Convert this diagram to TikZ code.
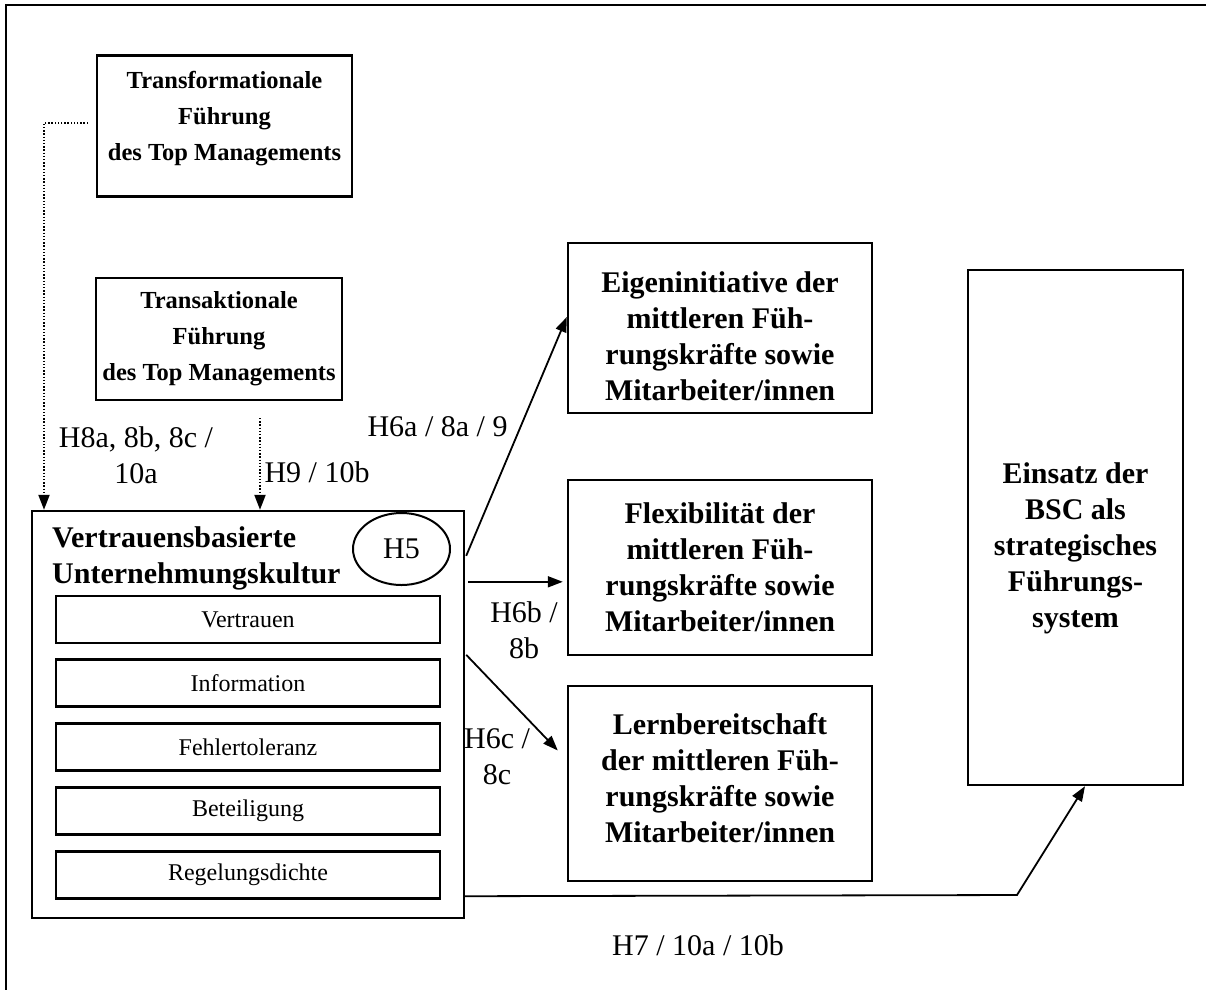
\documentclass[tikz,border=0pt]{standalone}
\usepackage{fontspec}
\setmainfont{Liberation Serif}
\usetikzlibrary{arrows.meta,calc,shapes.geometric}
\newcommand\boxtitlefont{\fontsize{30}{36}\selectfont\bfseries}
\newcommand\leadfont{\fontsize{24.5}{36}\selectfont\bfseries}
\newcommand\labelfont{\fontsize{30}{36}\selectfont}
\newcommand\itemfont{\fontsize{24}{28}\selectfont}
\begin{document}
\begin{tikzpicture}[x=1pt,y=-1pt,
  framebox/.style={draw, line width=2.4pt, inner sep=0pt, align=center, font=\boxtitlefont},
  itembox/.style={draw, line width=2.4pt, inner sep=0pt, minimum width=384pt, minimum height=47pt, font=\itemfont},
  lbl/.style={inner sep=0pt, align=center, font=\labelfont},
  arr/.style={line width=1.8pt, -{Triangle[length=15pt,width=11pt]}},
  dotarr/.style={line width=2pt, dash pattern=on 1.4pt off 1.8pt, -{Triangle[length=15pt,width=11pt]}}]
\useasboundingbox (0,0) rectangle (1206,989);
\begin{scope}
\clip (0,0) rectangle (1206,989);
\draw[line width=2.2pt] (6,1000) -- (6,5) -- (1220,5);
\end{scope}

% leadership boxes
\node[framebox, minimum width=255pt, minimum height=141pt] (tf) at (224.5,126) {};
\node[lbl, font=\leadfont] (tftext) at (224.5,119)
  {Transformationale\\Führung\\des Top Managements};
\node[framebox, minimum width=246pt, minimum height=122pt, font=\leadfont] (ta) at (219,339)
  {Transaktionale\\Führung\\des Top Managements};

% culture box with its dimensions
\node[draw, line width=2.4pt, minimum width=432pt, minimum height=407pt] (cult) at (248,714.5) {};
\node[lbl, font=\boxtitlefont, anchor=west, align=left] (culttitle) at (52,558)
  {Vertrauensbasierte\\Unternehmungskultur};
\node[draw, line width=2pt, ellipse, minimum width=97pt, minimum height=72pt, inner sep=0pt, font=\labelfont] (h5) at (401.5,549) {H5};
\node[itembox] (i1) at (248,619.5) {Vertrauen};
\node[itembox] (i2) at (248,683) {Information};
\node[itembox] (i3) at (248,747) {Fehlertoleranz};
\node[itembox] (i4) at (248,811) {Beteiligung};
\node[itembox] (i5) at (248,875) {Regelungsdichte};

% outcome boxes
\node[framebox, minimum width=304pt, minimum height=170pt] (ei) at (720,328) {};
\node[lbl, font=\boxtitlefont] (eitext) at (720,336)
  {Eigeninitiative der\\mittleren Füh-\\rungskräfte sowie\\Mitarbeiter/innen};
\node[framebox, minimum width=304pt, minimum height=175pt] (fl) at (720,567.5)
  {Flexibilität der\\mittleren Füh-\\rungskräfte sowie\\Mitarbeiter/innen};
\node[framebox, minimum width=304pt, minimum height=195pt] (lb) at (720,783.5) {};
\node[lbl, font=\boxtitlefont] (lbtext) at (720,778)
  {Lernbereitschaft\\der mittleren Füh-\\rungskräfte sowie\\Mitarbeiter/innen};
\node[draw, line width=2.4pt, minimum width=215pt, minimum height=515pt] (bsc) at (1075.5,527.5) {};
\node[lbl, font=\boxtitlefont] (bsctext) at (1075.5,548)
  {Einsatz der\\BSC als\\strategisches\\Führungs-\\system};

% dotted influences of leadership
\coordinate (tfout) at (88,123);
\coordinate (xleft) at (44,0);
\draw[dotarr] (tfout) -| (xleft |- cult.north);
\coordinate (taout) at (260,418);
\draw[dotarr] (taout) -- (taout |- cult.north);

% hypotheses from the culture box
\coordinate (s6a) at ($(cult.north east)+(1,46)$);
\draw[arr] (s6a) -- ($(ei.west)+(0,-11)$);
\coordinate (s6b) at ($(cult.north east)+(3,72)$);
\draw[arr, shorten >=4pt] (s6b) -- (s6b -| fl.west);
\coordinate (s6c) at ($(cult.north east)+(1,145)$);
\draw[arr] (s6c) -- ($(lb.west)+(-9,-33)$);
\coordinate (s7) at ($(cult.south east)+(0,-23)$);
\coordinate (k7) at (1017,895);
\draw[arr] (s7) -- (k7) -- ($(bsc.south)+(9.5,0)$);

% labels
\node[lbl] (l8) at (136,455) {H8a, 8b, 8c /\\10a};
\node[lbl] (l9) at (317,472) {H9 / 10b};
\node[lbl] (l6a) at (437.5,427) {H6a / 8a / 9};
\node[lbl] (l6b) at (524,630) {H6b /\\8b};
\node[lbl] (l6c) at (497,757) {H6c /\\8c};
\node[lbl] (l7) at (698,945) {H7 / 10a / 10b};
\end{tikzpicture}
\end{document}
